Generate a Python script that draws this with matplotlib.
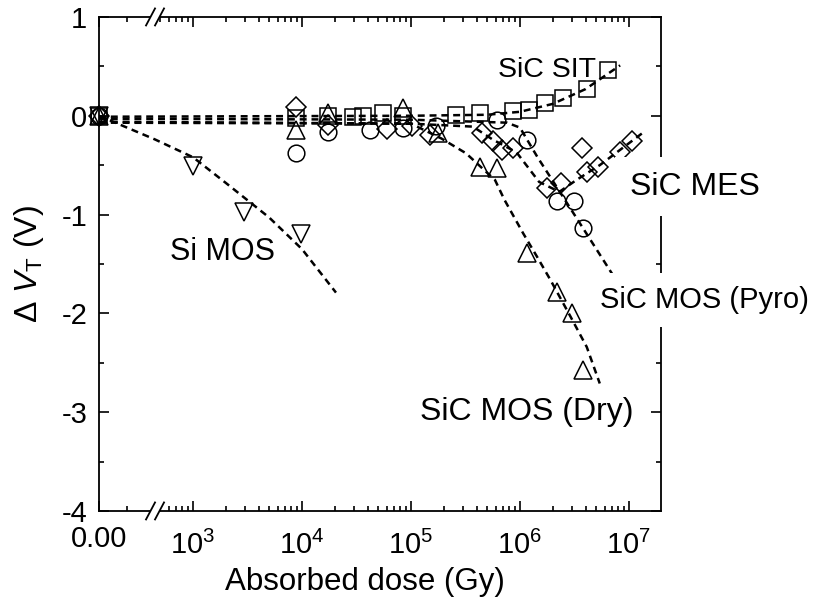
import numpy as np
import matplotlib
matplotlib.use('Agg')
import matplotlib.pyplot as plt
from matplotlib.patches import Polygon

plt.rcParams['font.family'] = ['Liberation Sans', 'DejaVu Sans']
plt.rcParams['mathtext.fontset'] = 'custom'
plt.rcParams['mathtext.rm'] = 'Liberation Sans'
plt.rcParams['mathtext.it'] = 'Liberation Sans:italic'
plt.rcParams['axes.unicode_minus'] = False
plt.rcParams['lines.scale_dashes'] = False

# Data: absorbed dose [Gy] and threshold voltage shift [V]
# ----------------------------------------------------------------------------

# Si MOS (down triangles)
dose_si = [0, 1e3, 2.95e3, 9.8e3]
dvt_si = [0, -0.51, -0.97, -1.20]
fit_dose_si = [0, 448, 1e3, 2e3, 5e3, 1e4, 2.05e4]
fit_dvt_si = [0, -0.24, -0.42, -0.68, -1.03, -1.35, -1.79]

# SiC SIT (squares)
dose_sit = [0, 8.8e3, 1.74e4, 2.95e4, 3.6e4, 5.5e4, 8.4e4, 2.6e5, 4.3e5,
            8.6e5, 1.2e6, 1.7e6, 2.5e6, 4.1e6, 6.4e6]
dvt_sit = [0, -0.02, 0.0, -0.01, 0.0, 0.03, 0.0, 0.01, 0.03,
           0.05, 0.06, 0.13, 0.18, 0.27, 0.46]
fit_dose_sit = [0, 1e5, 5e5, 1e6, 2e6, 4e6, 8.3e6]
fit_dvt_sit = [-0.01, 0.0, 0.01, 0.04, 0.12, 0.27, 0.51]

# SiC MES (diamonds)
dose_mes = [0, 8.8e3, 1.74e4, 6.0e4, 1.02e5, 1.48e5, 4.5e5, 5.6e5, 6.9e5,
            8.6e5, 1.78e6, 2.4e6, 3.7e6, 4.1e6, 5.2e6, 8.3e6, 1.07e7]
dvt_mes = [0, 0.09, -0.09, -0.13, -0.10, -0.19, -0.17, -0.26, -0.35,
           -0.33, -0.73, -0.68, -0.33, -0.57, -0.52, -0.37, -0.26]
fit_dose_mes = [0, 1e5, 3.7e5, 5.6e5, 9.3e5, 1.5e6, 2.3e6, 3.3e6, 5.4e6, 1.35e7]
fit_dvt_mes = [-0.07, -0.08, -0.11, -0.24, -0.37, -0.67, -0.77, -0.65, -0.50, -0.17]

# SiC MOS, pyrogenic oxide (circles)
dose_pyro = [0, 8.8e3, 1.74e4, 4.2e4, 8.4e4, 1.7e5, 6.2e5, 1.15e6, 2.2e6, 3.1e6, 3.8e6]
dvt_pyro = [0, -0.38, -0.16, -0.14, -0.12, -0.10, -0.04, -0.25, -0.86, -0.86, -1.14]
fit_dose_pyro = [0, 1e5, 7.6e5, 1e6, 1.45e6, 2.2e6, 3.8e6, 7.9e6]
fit_dvt_pyro = [-0.03, -0.04, -0.07, -0.12, -0.42, -0.73, -1.14, -1.69]

# SiC MOS, dry oxide (up triangles)
dose_dry = [0, 8.8e3, 1.74e4, 8.4e4, 1.77e5, 4.3e5, 6.1e5, 1.15e6, 2.2e6, 3.0e6, 3.8e6]
dvt_dry = [0, -0.14, 0.03, 0.08, -0.17, -0.52, -0.53, -1.39, -1.78, -2.00, -2.57]
fit_dose_dry = [0, 1e5, 1.9e5, 3.2e5, 5.9e5, 7.2e5, 1.07e6, 1.44e6, 1.9e6, 2.9e6, 4.1e6, 5.4e6]
fit_dvt_dry = [-0.06, -0.08, -0.23, -0.38, -0.65, -0.85, -1.19, -1.43, -1.66, -2.03, -2.34, -2.71]

x_labels = ['0.00', '$10^{3}$', '$10^{4}$', '$10^{5}$', '$10^{6}$', '$10^{7}$']
x_major = [0, 1e3, 1e4, 1e5, 1e6, 1e7]

# Broken x axis: a short linear segment holding 0, then log decades
# ----------------------------------------------------------------------------

x_break = 448.0
zero_gap = 0.514   # width of the zero segment [decades]


def fwd(x):
    x = np.asarray(x, dtype=float)
    lb = np.log10(x_break)
    lin = lb - zero_gap + x / x_break * zero_gap
    lg = np.log10(np.maximum(x, x_break))
    return np.where(x < x_break, lin, lg)


def inv(u):
    u = np.asarray(u, dtype=float)
    lb = np.log10(x_break)
    lin = (u - lb + zero_gap) / zero_gap * x_break
    lg = 10 ** np.clip(u, lb, 20)
    return np.where(u < lb, lin, lg)


# Plot
# ----------------------------------------------------------------------------

fig = plt.figure(figsize=(8.32, 5.99), dpi=100)
ax = fig.add_axes([0.119, 0.147, 0.6755, 0.8247])
ax.set_xscale('function', functions=(fwd, inv))

mk = dict(ls='none', mfc='none', mec='k', mew=1.1, zorder=2, clip_on=False)
ax.plot(dose_sit, dvt_sit, marker='s', ms=11, **mk)
ax.plot(dose_mes, dvt_mes, marker='D', ms=10, **mk)
ax.plot(dose_pyro, dvt_pyro, marker='o', ms=12, **mk)
ax.plot(dose_dry, dvt_dry, marker='^', ms=13, **mk)
ax.plot(dose_si, dvt_si, marker='v', ms=13, **mk)

ln = dict(color='k', lw=1.8, dashes=(5, 3.5), zorder=3)
ax.plot(fit_dose_sit, fit_dvt_sit, **ln)
ax.plot(fit_dose_mes, fit_dvt_mes, **ln)
ax.plot(fit_dose_pyro, fit_dvt_pyro, **ln)
ax.plot(fit_dose_dry, fit_dvt_dry, **ln)
ax.plot(fit_dose_si, fit_dvt_si, **ln)

ax.set_xlim(0, 1.97e7)
ax.set_ylim(-4, 1)

ax.set_xticks(x_major)
ax.set_xticklabels(x_labels)
minor = [x_break / 2] + [k * 10 ** d for d in range(2, 7) for k in range(2, 10) if k * 10 ** d > x_break]
ax.set_xticks(minor, minor=True)
ax.set_yticks(np.arange(-4, 2))
ax.set_yticklabels([f'{v:d}' for v in range(-4, 2)])
ax.set_yticks(np.arange(-3.5, 1, 1.0), minor=True)

ax.tick_params(which='both', direction='in', top=True, right=True, width=1.2)
ax.tick_params(which='major', length=7.5, labelsize=21)
ax.tick_params(axis='x', which='major', pad=14)
ax.tick_params(axis='y', which='major', pad=8.5)
ax.tick_params(which='minor', length=3.6)
for s in ax.spines.values():
    s.set_linewidth(1.3)

pos = ax.get_position()
w_px = fig.get_figwidth() * fig.dpi * pos.width
h_px = fig.get_figheight() * fig.dpi * pos.height

# "0.00" sits a little higher than the power-of-ten labels
ax.xaxis.get_major_ticks()[0].label1.set_y(5 / h_px)

ax.set_xlabel('Absorbed dose (Gy)', fontsize=22.5)
ax.xaxis.set_label_coords(0.473, -0.113)
ax.set_ylabel('Δ $V_\\mathrm{T}$ (V)', fontsize=23)
ax.yaxis.set_label_coords(-0.094, 0.5)

box = dict(boxstyle='square,pad=0.45', fc='white', ec='none')
txt = dict(ha='left', va='baseline', zorder=4)
ax.text(6.3e5, 0.39, 'SiC SIT', fontsize=20.5, **txt)
ax.text(1.02e7, -0.80, 'SiC MES', fontsize=23, bbox=box, **txt)
ax.text(615, -1.46, 'Si MOS', fontsize=22, **txt)
ax.text(5.4e6, -1.945, 'SiC MOS (Pyro)', fontsize=21, bbox=box, **txt)
ax.text(1.21e5, -3.08, 'SiC MOS (Dry)', fontsize=23, **txt)

# break marks "//" on top and bottom spines
u0, u1 = fwd(0.0), fwd(1.97e7)
xb = float((fwd(x_break) - u0) / (u1 - u0))
dx, dy, gap = 4.5 / w_px, 8.5 / h_px, 4.5 / w_px
for yb in (0, 1):
    quad = [(xb - gap - dx, yb - dy), (xb - gap + dx, yb + dy),
            (xb + gap + dx, yb + dy), (xb + gap - dx, yb - dy)]
    ax.add_patch(Polygon(quad, closed=True, fc='white', ec='none',
                         transform=ax.transAxes, clip_on=False, zorder=5))
    for c in (xb - gap, xb + gap):
        ax.plot([c - dx, c + dx], [yb - dy, yb + dy], color='k', lw=1.3,
                transform=ax.transAxes, clip_on=False, zorder=6)

fig.savefig('out.png', dpi=100)
